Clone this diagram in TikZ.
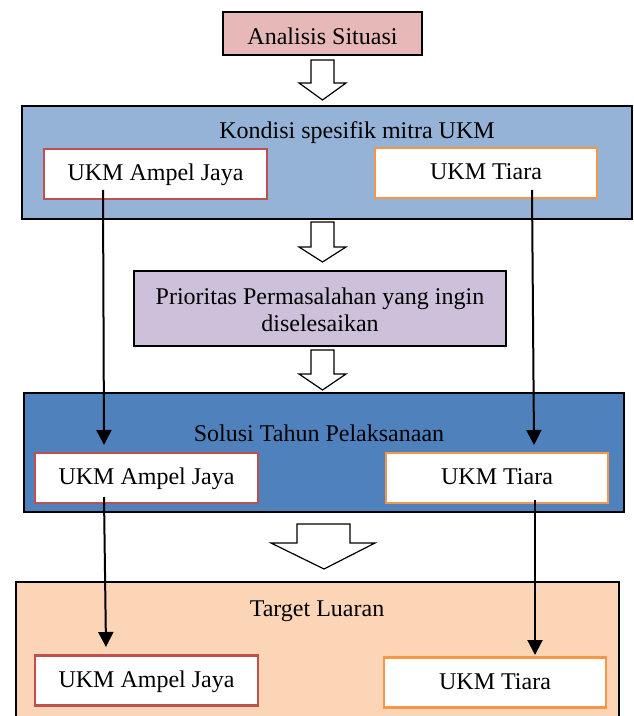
\documentclass[tikz,border=0pt]{standalone}
\usepackage{fontspec}
\setmainfont{Liberation Serif}
\usetikzlibrary{arrows.meta}
\definecolor{pinkA}{HTML}{E6B8B7}
\definecolor{blueK}{HTML}{95B3D7}
\definecolor{lavP}{HTML}{CCC0DA}
\definecolor{blueS}{HTML}{4F81BD}
\definecolor{peachT}{HTML}{FBD5B5}
\definecolor{redB}{HTML}{C0504D}
\definecolor{orgB}{HTML}{F79646}
\tikzset{
  outerbox/.style={draw=black, line width=1pt, rectangle, inner sep=0pt},
  txt/.style={inner sep=0pt, font=\fontsize{12}{13.7}\selectfont, align=center},
  title/.style={txt, anchor=base},
  ukm/.style={txt, fill=white, line width=1.3pt, minimum height=25pt, text height=0.85em, text depth=0.188em},
  ukmA/.style={ukm, draw=redB, minimum width=111.5pt},
  ukmT/.style={ukm, draw=orgB, minimum width=111pt},
  blockarrow/.style={draw=black, fill=white, line width=0.6pt, line join=miter},
  conn/.style={draw=black, line width=1pt, -{Triangle[length=7.5pt,width=7.5pt]}}
}
\begin{document}
\begin{tikzpicture}[x=0.5pt,y=-0.5pt]
\clip (0,0) rectangle (633,716);
\fill[white] (0,0) rectangle (633,716);
% Analisis Situasi
\node[outerbox, txt, fill=pinkA, minimum width=99.5pt, minimum height=21.5pt, text height=12pt, text depth=1.2pt] (an) at (322.5,33.5) {Analisis Situasi};
% arrow 1
\draw[blockarrow] (311,60) -- (334,60) -- (334,83) -- (346,83) -- (322.5,100) -- (299,83) -- (311,83) -- cycle;
% Kondisi
\node[outerbox, fill=blueK, minimum width=305pt, minimum height=56.5pt] (kon) at (327,162.5) {};
\node[title] (kont) at (357,138.3) {Kondisi spesifik mitra UKM};
\node[ukmA] (k1) at (155.5,174) {UKM Ampel Jaya};
\node[ukmT] (k2) at (486,173) {UKM Tiara};
% arrow 2
\draw[blockarrow] (311,222) -- (334,222) -- (334,247) -- (346,247) -- (322.5,262) -- (299,247) -- (311,247) -- cycle;
% Prioritas
\node[outerbox, fill=lavP, minimum width=186pt, minimum height=37.5pt] (pr) at (320,308.5) {};
\node[title] (prt1) at (320,304.3) {Prioritas Permasalahan yang ingin};
\node[title] (prt2) at (320,331.7) {diselesaikan};
% arrow 3
\draw[blockarrow] (311,350) -- (334,350) -- (334,374) -- (346,374) -- (322.5,390) -- (299,374) -- (311,374) -- cycle;
% Solusi
\node[outerbox, fill=blueS, minimum width=300pt, minimum height=59.5pt] (sol) at (324,452.5) {};
\node[title] (solt) at (319,441.7) {Solusi Tahun Pelaksanaan};
\node[ukmA] (s1) at (146.5,478) {UKM Ampel Jaya};
\node[ukmT] (s2) at (497,478) {UKM Tiara};
% arrow 4
\draw[blockarrow] (297,524) -- (350,524) -- (350,543) -- (375,543) -- (324,569) -- (271,543) -- (297,543) -- cycle;
% Target
\node[outerbox, fill=peachT, minimum width=301.5pt, minimum height=80pt, anchor=north west] (tar) at (15,581) {};
\node[title] (tart) at (317,616) {Target Luaran};
\node[ukmA] (t1) at (146.5,680.5) {UKM Ampel Jaya};
\node[ukmT] (t2) at (495,682.5) {UKM Tiara};
% connectors
\coordinate (a1) at (103,190);
\coordinate (a2) at (104,445);
\coordinate (b1) at (532,190);
\coordinate (b2) at (534,445);
\coordinate (c1) at (104,497);
\coordinate (c2) at (106,647);
\coordinate (d1) at (535,500);
\coordinate (d2) at (535,655);
\draw[conn] (a1) -- (a2);
\draw[conn] (b1) -- (b2);
\draw[conn] (c1) -- (c2);
\draw[conn] (d1) -- (d2);
\end{tikzpicture}
\end{document}
